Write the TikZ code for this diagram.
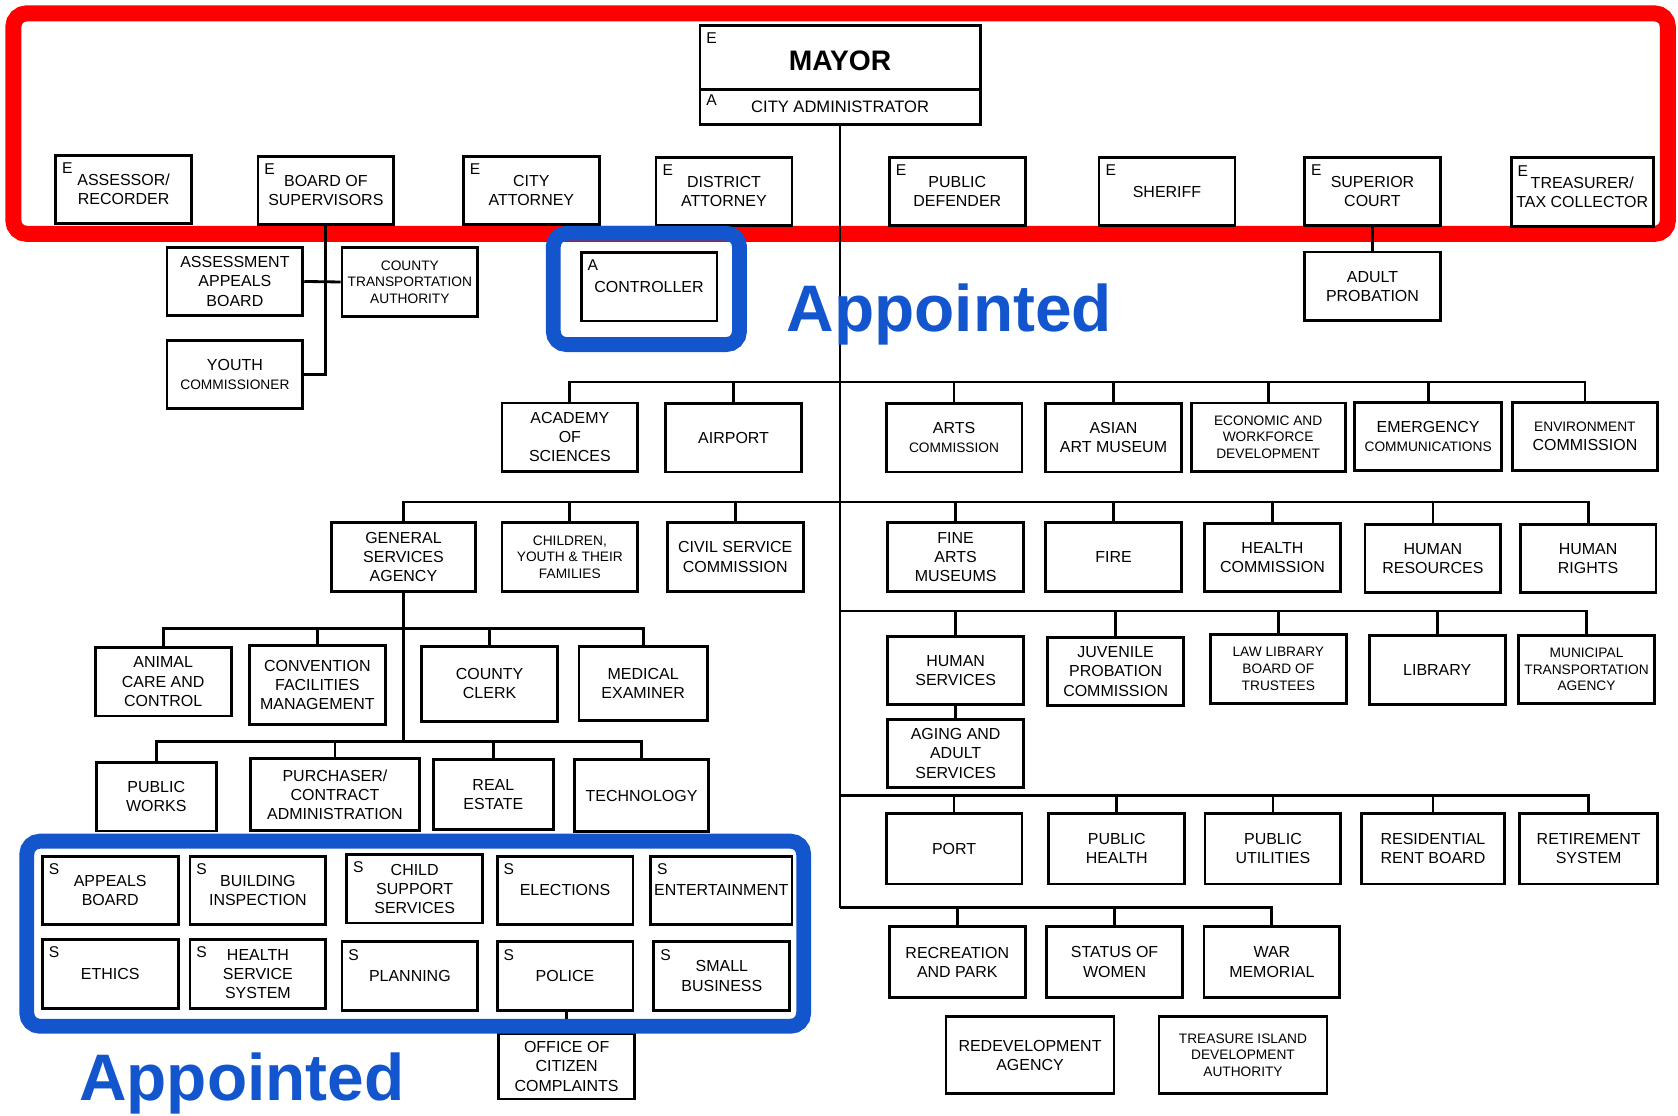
\documentclass[tikz,border=0pt]{standalone}
\usepackage{fontspec}
\setmainfont{Liberation Sans}
\usetikzlibrary{positioning}
\definecolor{markred}{RGB}{255,0,0}
\definecolor{markblue}{RGB}{18,85,204}
\newcommand{\smtxt}{\fontsize{7.3}{8.8}\selectfont}

\begin{document}
\begin{tikzpicture}[x=0.02cm, y=-0.02cm,
	office/.style={draw, rectangle, line width=1.5pt, minimum width=2.54cm, minimum height=1.28cm, inner sep=1pt, align=center, font=\fontsize{8.5}{10.2}\selectfont},
	tag/.style={anchor=north west, inner xsep=4pt, inner ysep=4.5pt, font=\fontsize{8.3}{9}\selectfont},
	elected/.style={office, label={[tag]north west:E}},
	charter/.style={office, label={[tag]north west:S}},
	link/.style={line width=1.5pt},
	ring/.style={line width=#1, rounded corners=7pt},
	appointed/.style={font=\fontsize{35}{40}\selectfont\bfseries, text=markblue, anchor=base, inner sep=0pt}]
	\useasboundingbox (0,0) rectangle (1568,1042);

	% red frame: elected officials
	\draw[markred, ring=8.5pt] (12.5,12.5) rectangle (1558.5,218.5);

	\node[office, minimum width=5.24cm, minimum height=1.2cm, text depth=0pt, font=\fontsize{15}{18}\selectfont\bfseries, label={[tag]north west:E}](mayor) at (785,54) {\raisebox{-3pt}{MAYOR}};
	\node[office, minimum width=5.24cm, minimum height=0.64cm, font=\fontsize{8.8}{10}\selectfont, label={[tag, inner ysep=3pt]north west:A}](admin) at (785,100) {CITY ADMINISTRATOR};

	\node[elected](assessor) at (115.5,177) {ASSESSOR/\\RECORDER};
	\node[elected](bos) at (304.5,178) {BOARD OF\\SUPERVISORS};
	\node[elected](cityatty) at (496.5,178) {CITY\\ATTORNEY};
	\node[elected](da) at (676.5,179) {DISTRICT\\ATTORNEY};
	\node[elected](pubdef) at (894.5,179) {PUBLIC\\DEFENDER};
	\node[elected](sheriff) at (1090.5,179) {SHERIFF};
	\node[elected](superior) at (1282.5,179) {SUPERIOR\\COURT};
	\node[elected, minimum width=2.66cm](treasurer) at (1478.5,179.5) {TREASURER/\\TAX COLLECTOR};

	% under the board and the court
	\node[office](aab) at (219.5,263) {ASSESSMENT\\APPEALS\\BOARD};
	\node[office, font=\smtxt](cta) at (383,263.5) {COUNTY\\TRANSPORTATION\\AUTHORITY};
	\node[office](youth) at (219.5,350) {YOUTH\\{\smtxt COMMISSIONER}};
	\node[office](adultprob) at (1282.5,267.5) {ADULT\\PROBATION};
	\node[office, label={[tag]north west:A}](controller) at (606.5,268) {CONTROLLER};

	\draw[link] (bos.south) |- (youth.east);
	\draw[link] (aab.east) -- (cta.west);
	\draw[link] (superior.south) -- (adultprob.north);

	% departments
	\coordinate (busA) at (785,357);
	\coordinate (busB) at (785,469);
	\coordinate (busC) at (785,571);
	\coordinate (busD) at (785,743);
	\coordinate (busE) at (785,848);
	\draw[link] (admin.south) -- (busE);

	\node[office](academy) at (532.5,408.5) {ACADEMY\\OF\\SCIENCES};
	\node[office](airport) at (685.5,409) {AIRPORT};
	\node[office](arts) at (891.5,409) {ARTS\\{\smtxt COMMISSION}};
	\node[office](asian) at (1040.5,409) {ASIAN\\ART MUSEUM};
	\node[office, minimum width=2.88cm, font=\smtxt](econ) at (1185,408.5) {ECONOMIC AND\\WORKFORCE\\DEVELOPMENT};
	\node[office, minimum width=2.74cm](emerg) at (1334.5,408) {EMERGENCY\\{\smtxt COMMUNICATIONS}};
	\node[office, minimum width=2.72cm](envc) at (1481,408) {{\smtxt ENVIRONMENT}\\COMMISSION};
	\draw[link] (academy.north) |- (busA) (airport.north) |- (busA) (arts.north) |- (busA)
		(asian.north) |- (busA) (econ.north) |- (busA) (emerg.north) |- (busA) (envc.north) |- (busA);

	\node[office, minimum width=2.7cm](gsa) at (377,520.5) {GENERAL\\SERVICES\\AGENCY};
	\node[office, font=\smtxt](children) at (532.5,520.5) {CHILDREN,\\YOUTH \& THEIR\\FAMILIES};
	\node[office](civil) at (687,520.5) {CIVIL SERVICE\\COMMISSION};
	\node[office](finearts) at (893,520.5) {FINE\\ARTS\\MUSEUMS};
	\node[office](fire) at (1040.5,520.5) {FIRE};
	\node[office](health) at (1189,521) {HEALTH\\COMMISSION};
	\node[office](hr) at (1339,522) {HUMAN\\RESOURCES};
	\node[office](rights) at (1484,522) {HUMAN\\RIGHTS};
	\draw[link] (gsa.north) |- (busB) (children.north) |- (busB) (civil.north) |- (busB)
		(finearts.north) |- (busB) (fire.north) |- (busB) (health.north) |- (busB) (hr.north) |- (busB) (rights.north) |- (busB);

	\node[office](humsvc) at (893,626.5) {HUMAN\\SERVICES};
	\node[office](juvenile) at (1042.5,627.5) {JUVENILE\\PROBATION\\COMMISSION};
	\node[office, font=\smtxt](lawlib) at (1194.5,625) {LAW LIBRARY\\BOARD OF\\TRUSTEES};
	\node[office](library) at (1343,626) {LIBRARY};
	\node[office, font=\smtxt](muni) at (1482.5,625.5) {MUNICIPAL\\TRANSPORTATION\\AGENCY};
	\node[office](aging) at (893,704) {AGING AND\\ADULT\\SERVICES};
	\draw[link] (humsvc.north) |- (busC) (juvenile.north) |- (busC) (lawlib.north) |- (busC)
		(library.north) |- (busC) (muni.north) |- (busC);
	\draw[link] (humsvc.south) -- (aging.north);

	\node[office, minimum height=1.32cm](port) at (891.5,793) {PORT};
	\node[office, minimum height=1.32cm](pubhealth) at (1043.5,793) {PUBLIC\\HEALTH};
	\node[office, minimum height=1.32cm](pubutil) at (1189.5,793) {PUBLIC\\UTILITIES};
	\node[office, minimum width=2.68cm, minimum height=1.32cm](rent) at (1339,793) {RESIDENTIAL\\RENT BOARD};
	\node[office, minimum width=2.58cm, minimum height=1.32cm](retire) at (1484.5,793) {RETIREMENT\\SYSTEM};
	\draw[link] (port.north) |- (busD) (pubhealth.north) |- (busD) (pubutil.north) |- (busD)
		(rent.north) |- (busD) (retire.north) |- (busD);

	\node[office, minimum height=1.32cm](recpark) at (894.5,899) {RECREATION\\AND PARK};
	\node[office, minimum height=1.32cm](women) at (1041.5,899) {STATUS OF\\WOMEN};
	\node[office, minimum height=1.32cm](war) at (1188.5,899) {WAR\\MEMORIAL};
	\draw[link] (recpark.north) |- (busE) (women.north) |- (busE) (war.north) |- (busE);

	\node[office, minimum width=3.14cm, minimum height=1.44cm](redev) at (962.5,986) {REDEVELOPMENT\\AGENCY};
	\node[office, minimum width=3.14cm, minimum height=1.44cm, font=\smtxt](tida) at (1161.5,986) {TREASURE ISLAND\\DEVELOPMENT\\AUTHORITY};

	% general services agency
	\coordinate (gsaA) at (377,587);
	\coordinate (gsaB) at (377,693);
	\draw[link] (gsa.south) -- (gsaB);

	\node[office](animal) at (152.5,637) {ANIMAL\\CARE AND\\CONTROL};
	\node[office, minimum height=1.48cm](convention) at (296.5,640) {CONVENTION\\FACILITIES\\MANAGEMENT};
	\node[office, minimum height=1.4cm](clerk) at (457.5,639) {COUNTY\\CLERK};
	\node[office, minimum width=2.4cm, minimum height=1.38cm](medical) at (601,638.5) {MEDICAL\\EXAMINER};
	\draw[link] (animal.north) |- (gsaA) (convention.north) |- (gsaA) (clerk.north) |- (gsaA) (medical.north) |- (gsaA);

	\node[office, minimum width=2.24cm](pubworks) at (146,744.5) {PUBLIC\\WORKS};
	\node[office, minimum width=3.16cm, minimum height=1.34cm](purchaser) at (313,742.5) {PURCHASER/\\CONTRACT\\ADMINISTRATION};
	\node[office, minimum width=2.24cm, minimum height=1.3cm](realestate) at (461,742.5) {REAL\\ESTATE};
	\node[office, minimum width=2.5cm, minimum height=1.34cm](tech) at (599.5,743.5) {TECHNOLOGY};
	\draw[link] (pubworks.north) |- (gsaB) (purchaser.north) |- (gsaB) (realestate.north) |- (gsaB) (tech.north) |- (gsaB);

	% charter commissions
	\node[charter](appeals) at (103,832) {APPEALS\\BOARD};
	\node[charter](building) at (241,832) {BUILDING\\INSPECTION};
	\node[charter](childsup) at (387.5,830.5) {CHILD\\SUPPORT\\SERVICES};
	\node[charter](elections) at (528,832) {ELECTIONS};
	\node[charter, minimum width=2.64cm](entertain) at (674,832) {ENTERTAINMENT};
	\node[charter](ethics) at (103,910) {ETHICS};
	\node[charter](healthsys) at (241,910) {HEALTH\\SERVICE\\SYSTEM};
	\node[charter](planning) at (383,912) {PLANNING};
	\node[charter](police) at (528,912) {POLICE};
	\node[charter](smallbiz) at (674.5,912) {SMALL\\BUSINESS};
	\node[office, minimum height=1.22cm](occ) at (529.5,996.5) {OFFICE OF\\CITIZEN\\COMPLAINTS};
	\draw[link] (police.south) -- (occ.north |- police.south) -- (occ.north);

	% blue frames: appointed
	\draw[markblue, ring=7.9pt] (517,218) rectangle (691,322);
	\draw[markblue, ring=7.9pt] (25,786) rectangle (751,959);
	\node[appointed](appointedA) at (887,310) {Appointed};
	\node[appointed](appointedB) at (226,1028) {Appointed};
\end{tikzpicture}
\end{document}
